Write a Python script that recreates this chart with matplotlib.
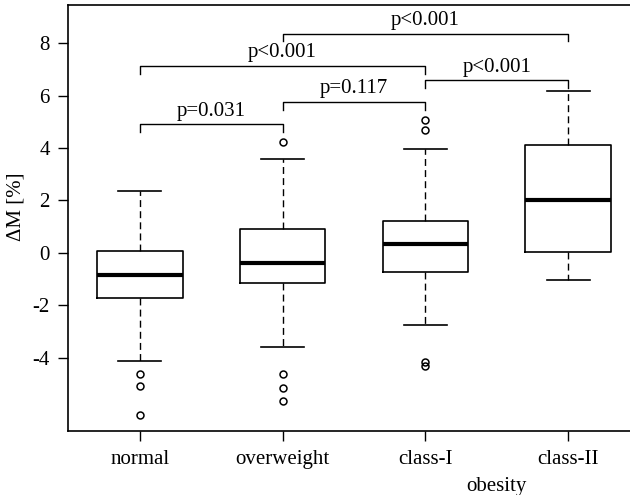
import matplotlib
matplotlib.use("Agg")
import matplotlib.pyplot as plt

plt.rcParams["font.family"] = ["Liberation Serif", "DejaVu Serif"]
plt.rcParams["axes.unicode_minus"] = False

groups = ["normal", "overweight", "class-I", "class-II"]
# five-number summaries per group: lower whisker, Q1, median, Q3, upper whisker
whislo = [-4.12, -3.59, -2.76, -1.05]
q1 = [-1.74, -1.17, -0.74, 0.04]
med = [-0.85, -0.38, 0.33, 2.01]
q3 = [0.08, 0.89, 1.22, 4.10]
whishi = [2.37, 3.58, 3.96, 6.17]
fliers = [
    [-4.63, -5.09, -6.18],
    [4.24, -4.63, -5.15, -5.67],
    [5.06, 4.68, -4.16, -4.32],
    [],
]

# pairwise comparisons: (group a, group b, bracket height, label)
pairs = [
    (1, 2, 4.90, "p=0.031"),
    (2, 3, 5.76, "p=0.117"),
    (1, 3, 7.14, "p<0.001"),
    (3, 4, 6.59, "p<0.001"),
    (2, 4, 8.37, "p<0.001"),
]

stats = []
for i, g in enumerate(groups):
    stats.append(dict(label=g, whislo=whislo[i], q1=q1[i], med=med[i],
                      q3=q3[i], whishi=whishi[i], fliers=fliers[i]))

fs = 15

fig = plt.figure(figsize=(6.3, 4.95), dpi=100)
ax = fig.add_axes([0.108, 0.13, 0.905, 0.8605])

ax.bxp(stats, positions=[1, 2, 3, 4], widths=0.6, showfliers=True,
       boxprops=dict(color="black", linewidth=1.2),
       medianprops=dict(color="black", linewidth=3.0),
       whiskerprops=dict(color="black", linewidth=1.0, linestyle=(0, (5, 3))),
       capprops=dict(color="black", linewidth=1.2),
       flierprops=dict(marker="o", markerfacecolor="none", markeredgecolor="black",
                       markersize=5, markeredgewidth=1.1),
       capwidths=0.3)

for a, b, h, lab in pairs:
    ax.plot([a, a, b, b], [h - 0.3, h, h, h - 0.3], color="black", linewidth=1.0)
    ax.text((a + b) / 2, h + 0.5, lab, ha="center", va="center", fontsize=fs)

ax.set_xlim(0.497, 4.49)
ax.set_ylim(-6.79, 9.47)
ax.set_yticks([-4, -2, 0, 2, 4, 6, 8])
ax.set_xticks([1, 2, 3, 4])
ax.set_xticklabels(groups)
ax.tick_params(labelsize=fs, length=7, width=1.0, pad=6)
ax.tick_params(axis="x", pad=7)
for s in ax.spines.values():
    s.set_linewidth(1.2)

ax.set_ylabel("ΔM [%]", fontsize=fs)
ax.yaxis.set_label_coords(-0.074, 0.525)
ax.text(3.5, -8.93, "obesity", ha="center", va="center", fontsize=fs,
        clip_on=False)

fig.savefig("out.png", dpi=100)
